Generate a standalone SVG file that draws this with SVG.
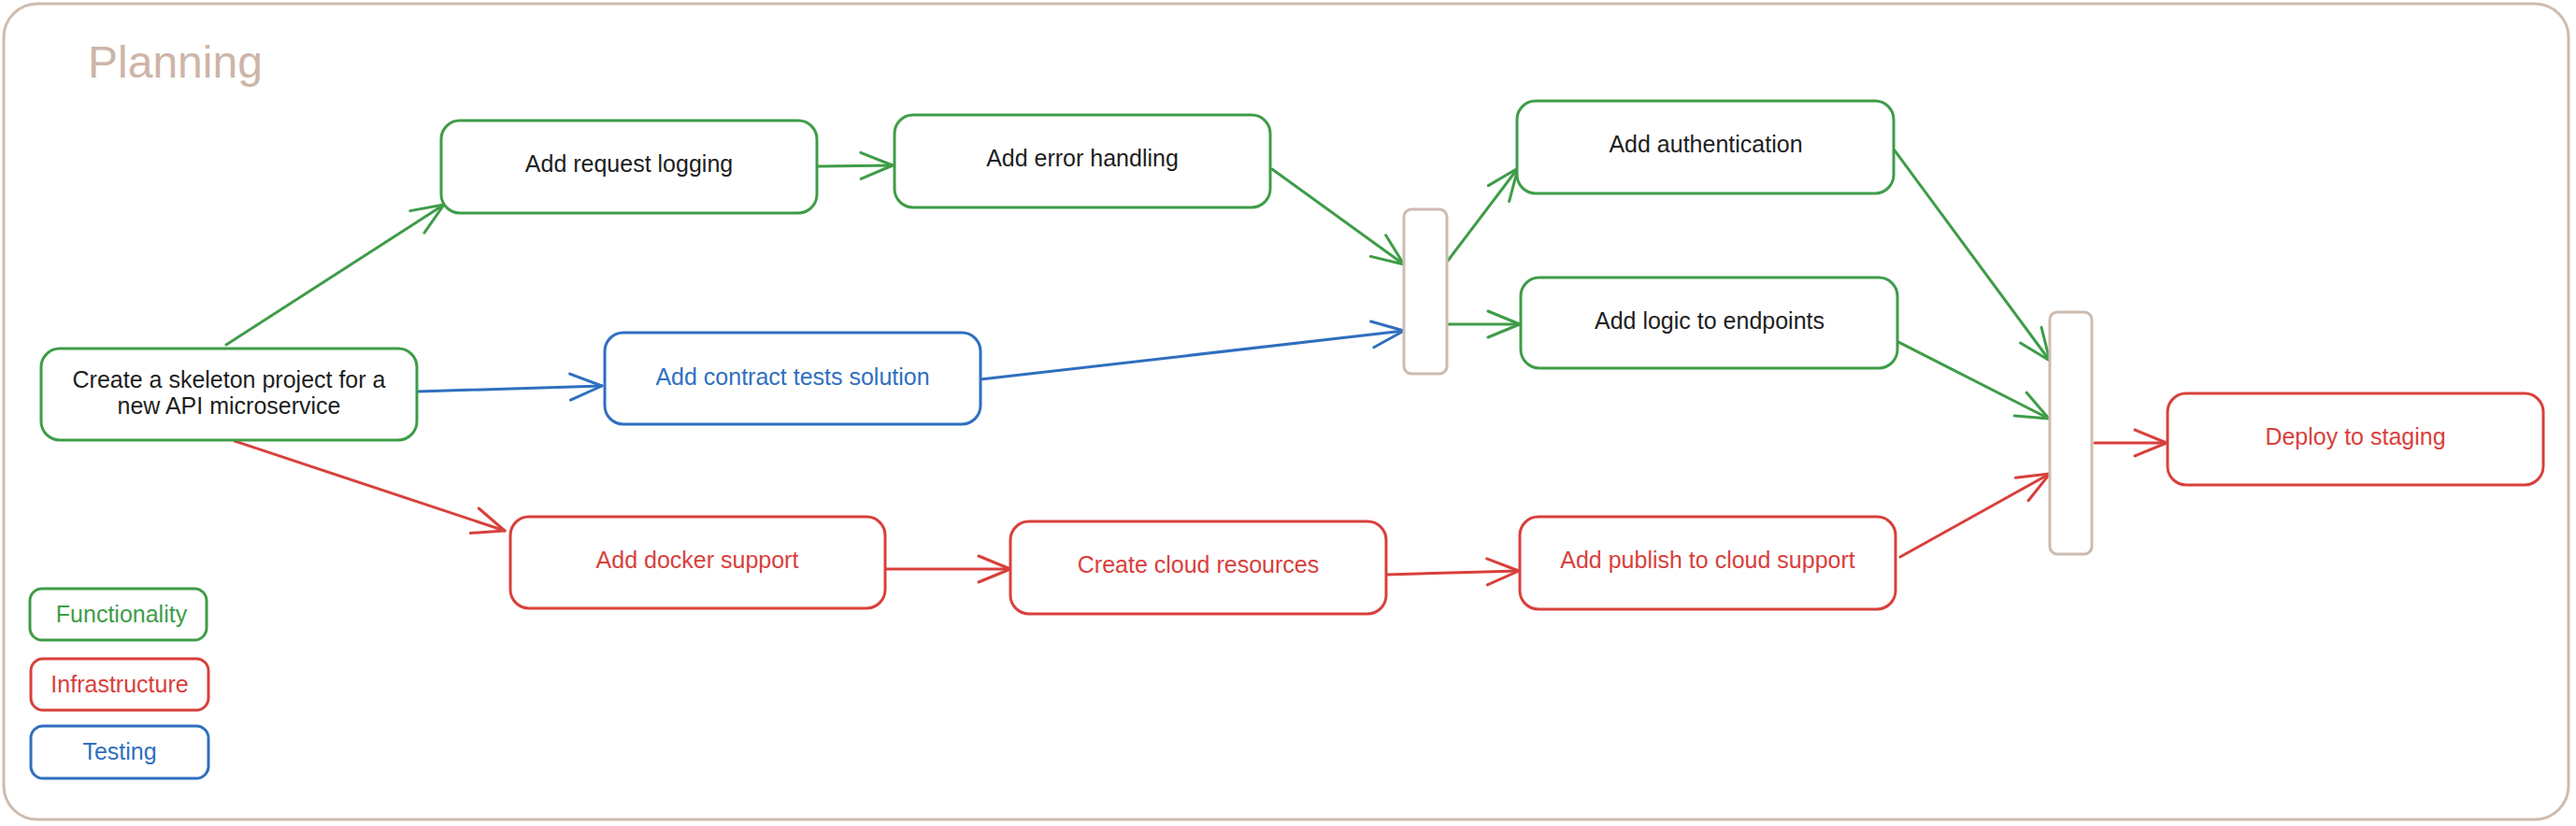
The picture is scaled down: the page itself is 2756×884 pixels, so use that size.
<svg xmlns="http://www.w3.org/2000/svg" width="2756" height="884" viewBox="0 0 2756 884">
  <style>
    text { font-family: "Liberation Sans", Arial, sans-serif; font-size: 25px; text-anchor: middle; }
    .node { fill: #ffffff; stroke-width: 3; }
    .g { stroke: #3f9c48; }
    .r { stroke: #d8403b; }
    .b { stroke: #2f6fbf; }
    .bar { fill: #ffffff; stroke: #cdbbb0; stroke-width: 3; }
    .tk { fill: #1e1e1e; }
    .tg { fill: #3f9c48; }
    .tr { fill: #d8403b; }
    .tb { fill: #2f6fbf; }
    .edge { fill: none; stroke-width: 3; stroke-linecap: round; }
    .eg { stroke: #3f9c48; marker-end: url(#ag); }
    .er { stroke: #d8403b; marker-end: url(#ar); }
    .eb { stroke: #2f6fbf; marker-end: url(#ab); }
  </style>
  <defs>
    <marker id="ag" markerUnits="userSpaceOnUse" markerWidth="42" markerHeight="42" refX="37" refY="21" orient="auto" overflow="visible">
      <path d="M3,7 L37,21 L3,35" fill="none" stroke="#3f9c48" stroke-width="3" stroke-linecap="round" stroke-linejoin="round"/>
    </marker>
    <marker id="ar" markerUnits="userSpaceOnUse" markerWidth="42" markerHeight="42" refX="37" refY="21" orient="auto" overflow="visible">
      <path d="M3,7 L37,21 L3,35" fill="none" stroke="#d8403b" stroke-width="3" stroke-linecap="round" stroke-linejoin="round"/>
    </marker>
    <marker id="ab" markerUnits="userSpaceOnUse" markerWidth="42" markerHeight="42" refX="37" refY="21" orient="auto" overflow="visible">
      <path d="M3,7 L37,21 L3,35" fill="none" stroke="#2f6fbf" stroke-width="3" stroke-linecap="round" stroke-linejoin="round"/>
    </marker>
  </defs>

  <rect width="2756" height="884" fill="#ffffff"/>

  <g id="frame">
    <rect x="4" y="4" width="2744" height="873" rx="36" ry="36" fill="none" stroke="#cdbbb0" stroke-width="3"/>
    <text x="94" y="83" style="font-size:48px;text-anchor:start;fill:#cdb5a8">Planning</text>
  </g>

  <g id="connectors">
    <line class="edge eg" x1="242" y1="369" x2="475" y2="219"/>
    <line class="edge eb" x1="447" y1="419" x2="644" y2="413"/>
    <line class="edge er" x1="251" y1="472" x2="540" y2="568"/>
    <line class="edge eg" x1="875" y1="178" x2="955" y2="177"/>
    <line class="edge eg" x1="1361" y1="181" x2="1502" y2="283"/>
    <line class="edge eb" x1="1049" y1="406" x2="1502" y2="354"/>
    <line class="edge eg" x1="1549" y1="279" x2="1624" y2="180"/>
    <line class="edge eg" x1="1549" y1="347" x2="1626" y2="347"/>
    <line class="edge eg" x1="2027" y1="161" x2="2193" y2="386"/>
    <line class="edge eg" x1="2031" y1="366" x2="2192" y2="448"/>
    <line class="edge er" x1="948" y1="609" x2="1081" y2="609"/>
    <line class="edge er" x1="1483" y1="615" x2="1625" y2="611"/>
    <line class="edge er" x1="2033" y1="596" x2="2193" y2="507"/>
    <line class="edge er" x1="2241" y1="474" x2="2318" y2="474"/>
  </g>

  <g id="skeleton">
    <rect class="node g" x="44" y="373" width="402" height="98" rx="20"/>
    <text class="tk" x="245" y="415">Create a skeleton project for a</text>
    <text class="tk" x="245" y="443">new API microservice</text>
  </g>
  <g id="request-logging">
    <rect class="node g" x="472" y="129" width="402" height="99" rx="20"/>
    <text class="tk" x="673" y="184">Add request logging</text>
  </g>
  <g id="error-handling">
    <rect class="node g" x="957" y="123" width="402" height="99" rx="20"/>
    <text class="tk" x="1158" y="178">Add error handling</text>
  </g>
  <g id="authentication">
    <rect class="node g" x="1623" y="108" width="403" height="99" rx="20"/>
    <text class="tk" x="1825" y="163">Add authentication</text>
  </g>
  <g id="logic">
    <rect class="node g" x="1627" y="297" width="403" height="97" rx="20"/>
    <text class="tk" x="1829" y="352">Add logic to endpoints</text>
  </g>
  <g id="contract-tests">
    <rect class="node b" x="647" y="356" width="402" height="98" rx="20"/>
    <text class="tb" x="848" y="412">Add contract tests solution</text>
  </g>
  <g id="docker">
    <rect class="node r" x="546" y="553" width="401" height="98" rx="20"/>
    <text class="tr" x="746" y="608">Add docker support</text>
  </g>
  <g id="cloud-resources">
    <rect class="node r" x="1081" y="558" width="402" height="99" rx="20"/>
    <text class="tr" x="1282" y="613">Create cloud resources</text>
  </g>
  <g id="publish">
    <rect class="node r" x="1626" y="553" width="402" height="99" rx="20"/>
    <text class="tr" x="1827" y="608">Add publish to cloud support</text>
  </g>
  <g id="deploy">
    <rect class="node r" x="2319" y="421" width="402" height="98" rx="20"/>
    <text class="tr" x="2520" y="476">Deploy to staging</text>
  </g>
  <g id="join-1">
    <rect class="bar" x="1502" y="224" width="46" height="176" rx="8"/>
  </g>
  <g id="join-2">
    <rect class="bar" x="2193" y="334" width="45" height="259" rx="8"/>
  </g>

  <g id="legend-functionality">
    <rect class="node g" x="32" y="630" width="189" height="55" rx="13"/>
    <text class="tg" x="130" y="666">Functionality</text>
  </g>
  <g id="legend-infrastructure">
    <rect class="node r" x="33" y="705" width="190" height="55" rx="13"/>
    <text class="tr" x="128" y="741">Infrastructure</text>
  </g>
  <g id="legend-testing">
    <rect class="node b" x="33" y="777" width="190" height="56" rx="13"/>
    <text class="tb" x="128" y="813">Testing</text>
  </g>
</svg>
